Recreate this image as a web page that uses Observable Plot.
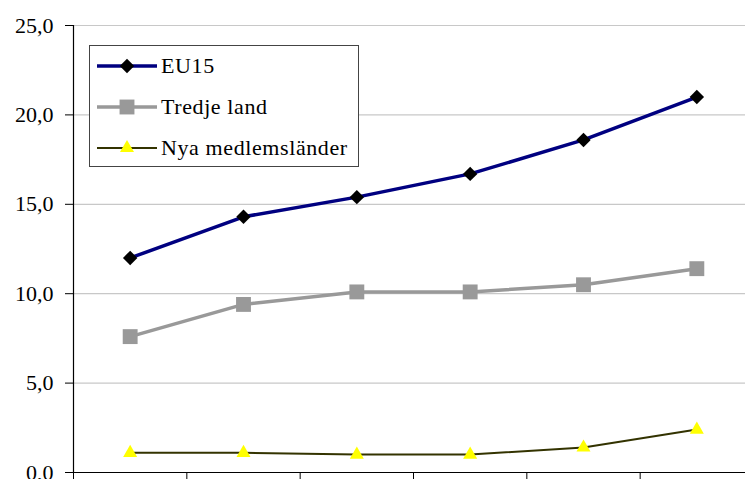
<!DOCTYPE html>
<html>
<head>
<meta charset="utf-8">
<script src="https://cdn.jsdelivr.net/npm/d3@7"></script>
<script src="https://cdn.jsdelivr.net/npm/@observablehq/plot@0.6"></script>
<style>
  html, body { margin: 0; padding: 0; background: #fff; overflow: hidden; }
  #wrap { position: relative; width: 745px; height: 479px; }
  #wrap svg text { font-family: "Liberation Serif", "DejaVu Serif", Times, serif !important; }
  #legend {
    position: absolute; left: 89px; top: 45px; width: 270px; height: 122px;
    border: 1px solid #444; background: #fff; box-sizing: border-box;
    font-family: "Liberation Serif", "DejaVu Serif", Times, serif; font-size: 22px; color: #000;
  }
  .row { position: absolute; left: 7px; display: flex; align-items: center; height: 30px; }
  .row span { margin-left: 4px; letter-spacing: 0.6px; }
</style>
</head>
<body>
<div id="wrap"><div id="legend"></div></div>
<script>
// Category positions (no labels shown on the x axis)
const periods = [1, 2, 3, 4, 5, 6];
const seriesNames = ["EU15", "Tredje land", "Nya medlemsländer"];
const eu15 = [12.0, 14.3, 15.4, 16.7, 18.6, 21.0];
const tredjeLand = [7.6, 9.4, 10.1, 10.1, 10.5, 11.4];
const nyaMedlemslander = [1.1, 1.1, 1.0, 1.0, 1.4, 2.4];
const yTicks = [0, 5, 10, 15, 20, 25];

const styles = {
  "EU15": {stroke: "#000080", width: 3.5, symbol: "diamond2", fill: "#000000", r: 6.5},
  "Tredje land": {stroke: "#999999", width: 3.5, symbol: "square", fill: "#999999", r: 8.4},
  "Nya medlemsländer": {stroke: "#333300", width: 2, symbol: "triangle", fill: "#ffff00", r: 5.2}
};

const valuesBySeries = [eu15, tredjeLand, nyaMedlemslander];
const data = [];
seriesNames.forEach((s, i) => periods.forEach((p, j) => data.push({series: s, pos: p - 0.5, value: valuesBySeries[i][j]})));

const marks = [
  Plot.ruleY(yTicks.filter(d => d > 0), {stroke: "#c8c8c8", strokeWidth: 1.2}),
  Plot.axisY(yTicks, {tickSize: 8, tickPadding: 12, tickFormat: d => d.toFixed(1).replace(".", ","), fontSize: 22, stroke: "#000", label: null}),
  Plot.axisX(d3.range(0, 7), {tickSize: 8, tickFormat: () => "", stroke: "#000", label: null}),
  Plot.ruleX([0], {stroke: "#000", strokeWidth: 1.2}),
  Plot.ruleY([0], {stroke: "#000", strokeWidth: 1.2})
];
for (const s of seriesNames) {
  const st = styles[s];
  const d = data.filter(r => r.series === s);
  marks.push(Plot.line(d, {x: "pos", y: "value", stroke: st.stroke, strokeWidth: st.width}));
  marks.push(Plot.dot(d, {x: "pos", y: "value", symbol: () => st.symbol, fill: st.fill, r: st.r, stroke: "none"}));
}

const chart = Plot.plot({
  width: 745,
  height: 479,
  marginLeft: 73,
  marginRight: -8,
  marginTop: 25,
  marginBottom: 7,
  style: {fontFamily: "'Liberation Serif', 'DejaVu Serif', Times, serif", fontSize: "22px", color: "#000", background: "#fff", overflow: "hidden"},
  x: {domain: [0, 6], axis: null, label: null},
  y: {domain: [0, 25], axis: null, label: null},
  symbol: {type: "identity"},
  marks
});
document.getElementById("wrap").prepend(chart);

// Legend (HTML overlay)
const legend = d3.select("#legend");
seriesNames.forEach((s, i) => {
  const st = styles[s];
  const row = legend.append("div").attr("class", "row").style("top", (5 + i * 41) + "px");
  const svg = row.append("svg").attr("width", 60).attr("height", 30);
  svg.append("line").attr("x1", 0).attr("x2", 60).attr("y1", 15).attr("y2", 15)
    .attr("stroke", st.stroke).attr("stroke-width", st.width);
  const sym = {diamond2: d3.symbolDiamond2, square: d3.symbolSquare, triangle: d3.symbolTriangle}[st.symbol];
  svg.append("path").attr("transform", "translate(30,15)")
    .attr("d", d3.symbol(sym, Math.PI * st.r * st.r)()).attr("fill", st.fill);
  row.append("span").text(s);
});
</script>
</body>
</html>
